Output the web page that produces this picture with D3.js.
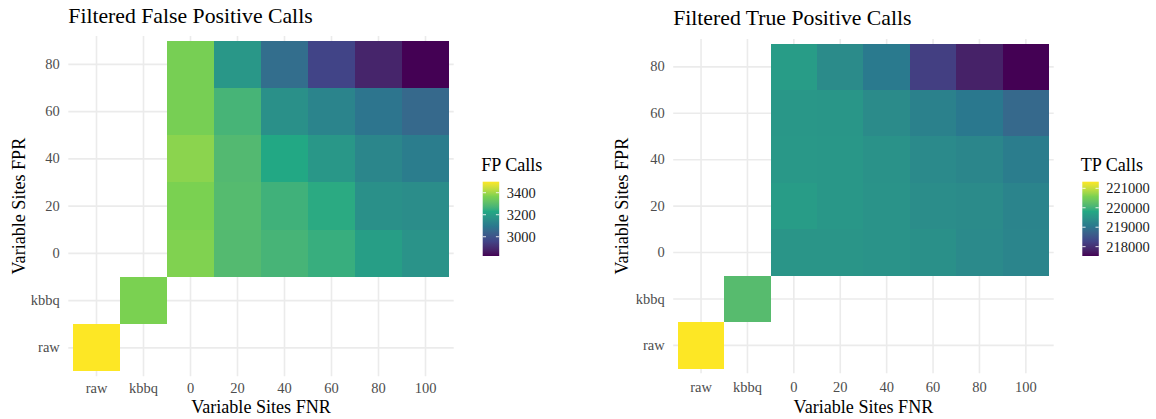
<!DOCTYPE html>
<html>
<head>
<meta charset="utf-8">
<script src="https://cdn.jsdelivr.net/npm/d3@7"></script>
<style>
  html, body { margin: 0; padding: 0; background: #ffffff; }
  svg { display: block; }
  text { font-family: "Liberation Serif", "Times New Roman", serif; }
</style>
</head>
<body>
<svg id="chart" width="1156" height="419"></svg>
<script>
// Category levels on both axes
const fnrLevels = ["0", "20", "40", "60", "80", "100"];
const fprLevels = ["0", "20", "40", "60", "80"];
const xCategories = ["raw", "kbbq", ...fnrLevels];
const yCategories = ["raw", "kbbq", ...fprLevels];

// Filtered false positive calls: one row per FPR level, columns follow fnrLevels
const fpGrid = [
  [3370, 3290, 3270, 3250, 3203, 3173],  // FPR 0
  [3365, 3292, 3260, 3237, 3163, 3156],  // FPR 20
  [3380, 3288, 3230, 3183, 3136, 3108],  // FPR 40
  [3358, 3270, 3163, 3130, 3088, 3055],  // FPR 60
  [3358, 3183, 3068, 2960, 2886, 2825]   // FPR 80
];
const fpRaw = 3500;
const fpKbbq = 3365;
const fpLegendTicks = [3000, 3200, 3400];

// Filtered true positive calls
const tpGrid = [
  [219506, 219506, 219487, 219430, 219335, 219258],  // FPR 0
  [219620, 219545, 219487, 219392, 219354, 219239],  // FPR 20
  [219564, 219545, 219468, 219335, 219277, 219124],  // FPR 40
  [219545, 219525, 219354, 219200, 219048, 218819],  // FPR 60
  [219620, 219354, 219086, 218208, 217826, 217520]   // FPR 80
];
const tpRaw = 221340;
const tpKbbq = 220180;
const tpLegendTicks = [218000, 219000, 220000, 221000];

// Six viridis anchor colours, blended in Lab space
const viridisAnchors = ["#440154", "#414487", "#2A788E", "#22A884", "#7AD151", "#FDE725"];
const palette = d3.piecewise(d3.interpolateLab, viridisAnchors);

// Build long-format cell lists
function cells(grid, rawVal, kbbqVal) {
  const out = [{x: "raw", y: "raw", v: rawVal}, {x: "kbbq", y: "kbbq", v: kbbqVal}];
  fprLevels.forEach((fpr, i) => {
    fnrLevels.forEach((fnr, j) => out.push({x: fnr, y: fpr, v: grid[i][j]}));
  });
  return out;
}

const svg = d3.select("#chart");
svg.append("rect").attr("width", 1156).attr("height", 419).attr("fill", "#ffffff");
const defs = svg.append("defs");

const baseSize = 18.1;

function drawPanel(cfg) {
  const data = cells(cfg.grid, cfg.raw, cfg.kbbq);
  const g = svg.append("g");

  const x = d3.scaleBand().domain(xCategories)
    .range([cfg.left, cfg.right]).paddingInner(0).paddingOuter(0.1);
  const y = d3.scaleBand().domain(yCategories)
    .range([cfg.bottom, cfg.top]).paddingInner(0).paddingOuter(0.1);

  const ext = d3.extent(data, d => d.v);
  const color = d3.scaleSequential(palette).domain(ext);

  // grid lines
  const grid = g.append("g").attr("stroke", "#EBEBEB").attr("stroke-width", 1.6);
  xCategories.forEach(c => {
    const cx = x(c) + x.bandwidth() / 2;
    grid.append("line").attr("x1", cx).attr("x2", cx).attr("y1", cfg.top).attr("y2", cfg.bottom);
  });
  yCategories.forEach(c => {
    const cy = y(c) + y.bandwidth() / 2;
    grid.append("line").attr("x1", cfg.left).attr("x2", cfg.right).attr("y1", cy).attr("y2", cy);
  });

  // tiles
  g.append("g").attr("shape-rendering", "crispEdges")
    .selectAll("rect").data(data).join("rect")
    .attr("x", d => x(d.x))
    .attr("y", d => y(d.y))
    .attr("width", x.bandwidth())
    .attr("height", y.bandwidth())
    .attr("fill", d => color(d.v));

  // axes
  const xAxis = g.append("g").attr("transform", `translate(0,${cfg.bottom})`)
    .call(d3.axisBottom(x).tickSize(0).tickPadding(cfg.xPad));
  const yAxis = g.append("g").attr("transform", `translate(${cfg.left},0)`)
    .call(d3.axisLeft(y).tickSize(0).tickPadding(8.5));
  [xAxis, yAxis].forEach(a => {
    a.attr("font-family", null);
    a.select(".domain").remove();
    a.selectAll("text")
      .attr("font-size", baseSize * 0.8)
      .attr("fill", "#4D4D4D");
  });

  // titles
  g.append("text").attr("x", cfg.left).attr("y", cfg.titleY)
    .attr("font-size", baseSize * 1.2).attr("fill", "#000").text(cfg.title);
  g.append("text").attr("x", (cfg.left + cfg.right) / 2).attr("y", cfg.xTitleY)
    .attr("text-anchor", "middle").attr("font-size", baseSize).attr("fill", "#000")
    .text("Variable Sites FNR");
  g.append("text")
    .attr("transform", `translate(${cfg.yTitleX},${(cfg.top + cfg.bottom) / 2}) rotate(-90)`)
    .attr("text-anchor", "middle").attr("font-size", baseSize).attr("fill", "#000")
    .text("Variable Sites FPR");

  // colour bar legend
  const lg = g.append("g");
  const barTop = 181.7, barBottom = 256, barW = 16.5;
  const gradId = "grad-" + cfg.id;
  const grad = defs.append("linearGradient")
    .attr("id", gradId).attr("x1", 0).attr("y1", 1).attr("x2", 0).attr("y2", 0);
  d3.range(0, 1.0001, 0.02).forEach(t => {
    grad.append("stop").attr("offset", t).attr("stop-color", palette(t));
  });
  lg.append("text").attr("x", cfg.legendX).attr("y", 170.7)
    .attr("font-size", baseSize).attr("fill", "#000").text(cfg.legendTitle);
  lg.append("rect").attr("x", cfg.legendX + 1.5).attr("y", barTop)
    .attr("width", barW).attr("height", barBottom - barTop)
    .attr("fill", `url(#${gradId})`);
  const ly = d3.scaleLinear().domain(ext).range([barBottom, barTop]);
  const tickLen = barW / 5;
  cfg.ticks.forEach(t => {
    const ty = ly(t);
    lg.append("line").attr("x1", cfg.legendX + 1.5).attr("x2", cfg.legendX + 1.5 + tickLen)
      .attr("y1", ty).attr("y2", ty).attr("stroke", "#ffffff").attr("stroke-width", 1).attr("opacity", 0.85);
    lg.append("line").attr("x1", cfg.legendX + 1.5 + barW - tickLen).attr("x2", cfg.legendX + 1.5 + barW)
      .attr("y1", ty).attr("y2", ty).attr("stroke", "#ffffff").attr("stroke-width", 1).attr("opacity", 0.85);
    lg.append("text").attr("x", cfg.legendX + 1.5 + barW + 7.5).attr("y", ty)
      .attr("dy", "0.35em").attr("font-size", baseSize * 0.8).attr("fill", "#1a1a1a")
      .text(d3.format("d")(t));
  });
}

drawPanel({
  id: "fp", title: "Filtered False Positive Calls", legendTitle: "FP Calls",
  grid: fpGrid, raw: fpRaw, kbbq: fpKbbq, ticks: fpLegendTicks,
  left: 68.3, right: 453.7, top: 36, bottom: 376.2,
  xPad: 7, titleY: 22.7, xTitleY: 413, yTitleX: 24.5, legendX: 481.2
});

drawPanel({
  id: "tp", title: "Filtered True Positive Calls", legendTitle: "TP Calls",
  grid: tpGrid, raw: tpRaw, kbbq: tpKbbq, ticks: tpLegendTicks,
  left: 673.2, right: 1053.7, top: 39, bottom: 373.2,
  xPad: 8.8, titleY: 25, xTitleY: 412.7, yTitleX: 628, legendX: 1080.8
});
</script>
</body>
</html>
